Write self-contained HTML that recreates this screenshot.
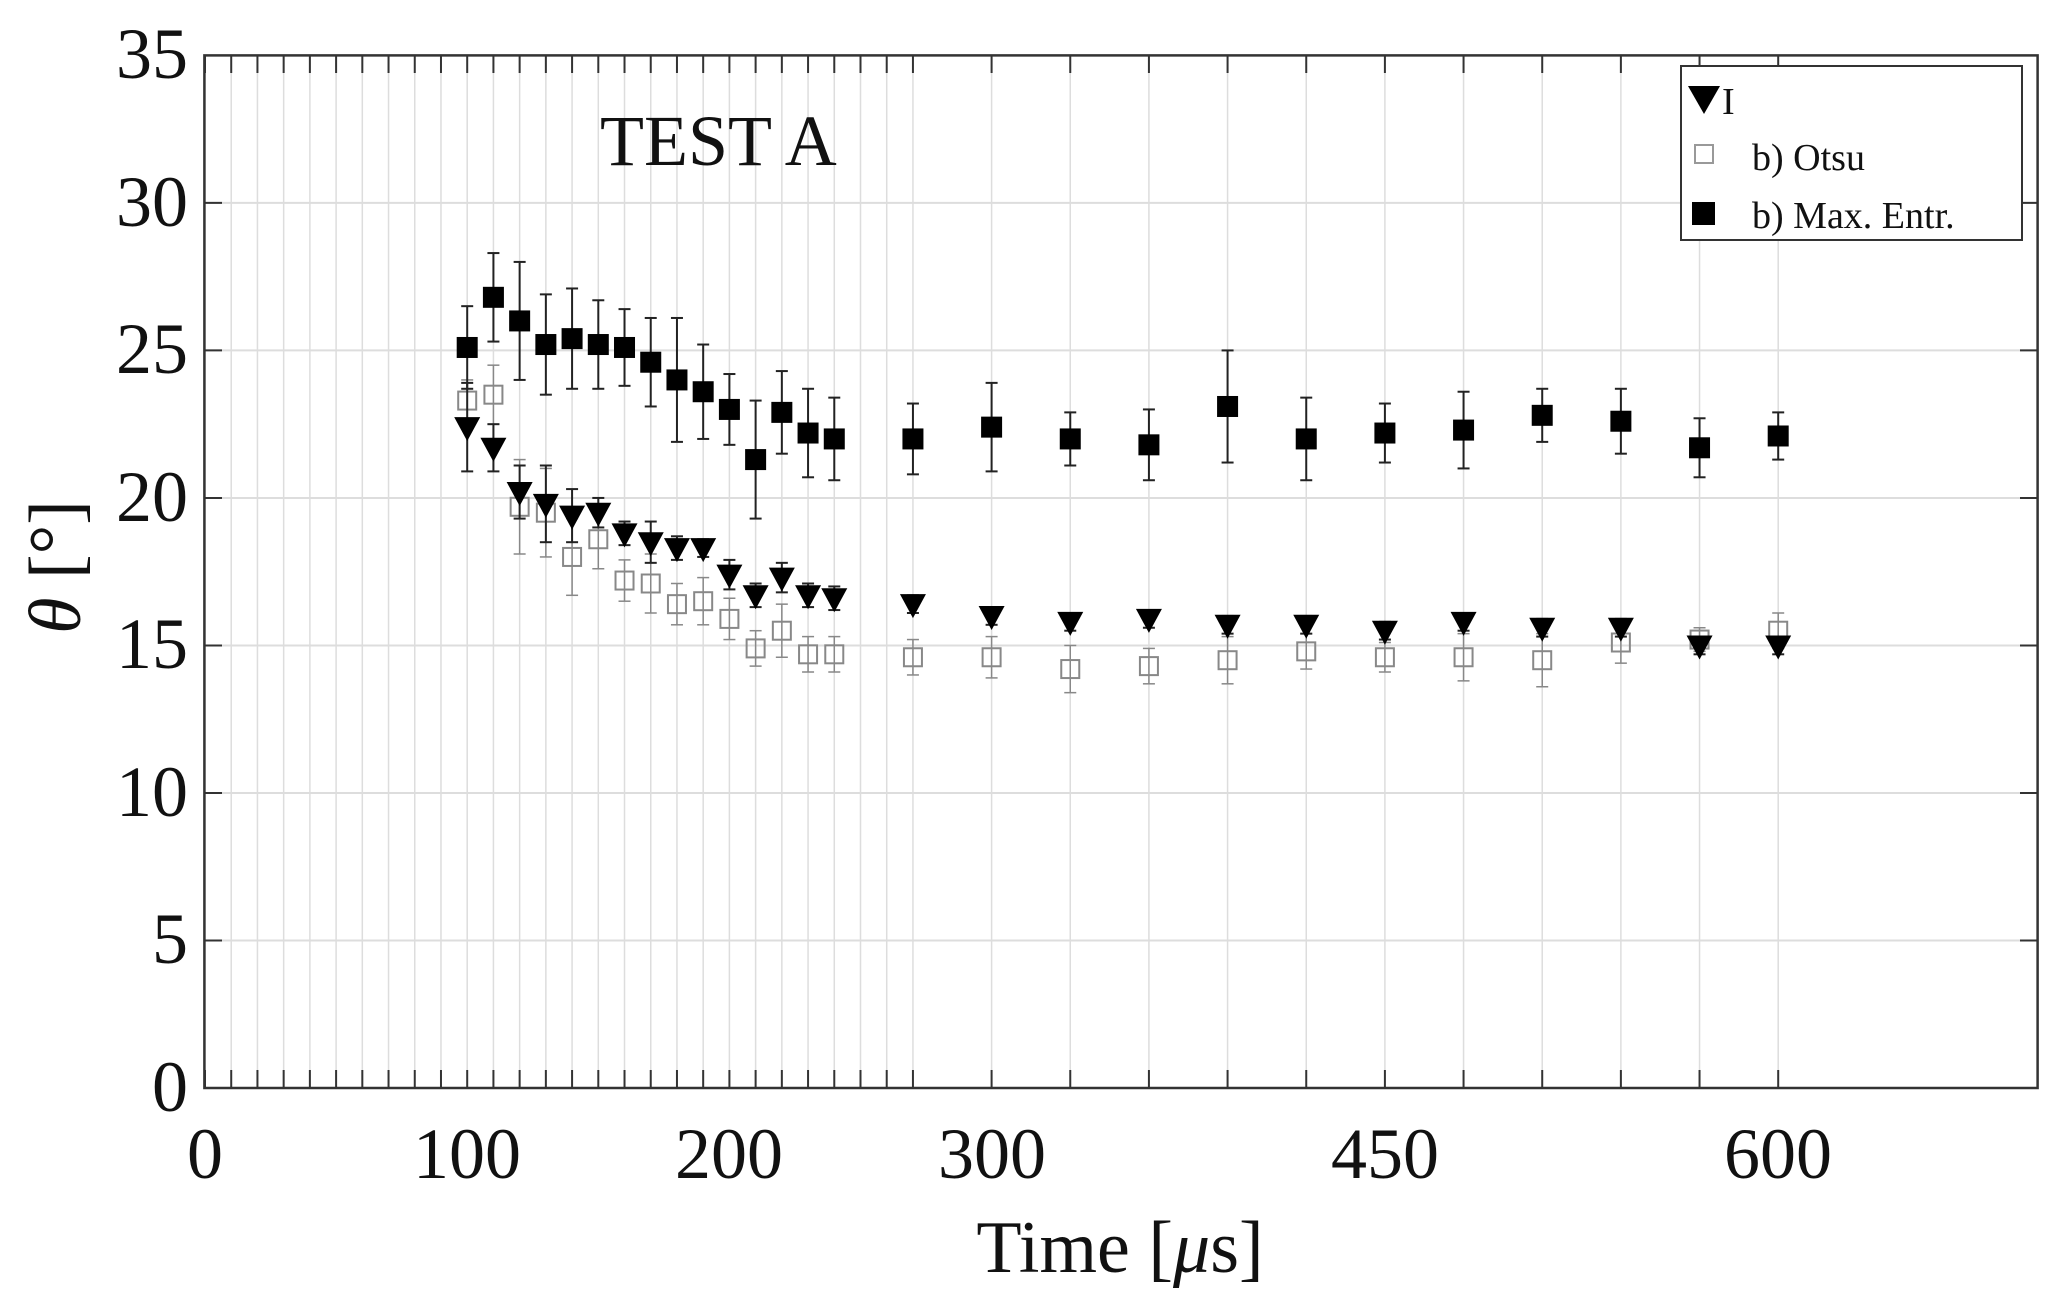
<!DOCTYPE html>
<html><head><meta charset="utf-8"><style>
html,body{margin:0;padding:0;background:#fff;}
svg text{font-family:"Liberation Serif",serif;fill:#111;}
</style></head><body>
<svg id="s" width="2064" height="1305" viewBox="0 0 2064 1305" xmlns="http://www.w3.org/2000/svg">
<rect width="2064" height="1305" fill="#fff"/>
<g id="grid"></g>
<g id="data"></g>
<rect x="204.4" y="55.4" width="1833.2" height="1032.6" fill="none" stroke="#333" stroke-width="2.5"/>
<g font-size="72" text-anchor="end">
<text x="188" y="1111">0</text>
<text x="188" y="963">5</text>
<text x="188" y="816">10</text>
<text x="188" y="668">15</text>
<text x="188" y="521">20</text>
<text x="188" y="373">25</text>
<text x="188" y="226">30</text>
<text x="188" y="78">35</text>
</g>
<g font-size="72" text-anchor="middle">
<text x="205" y="1178">0</text>
<text x="467" y="1178">100</text>
<text x="729" y="1178">200</text>
<text x="992" y="1178">300</text>
<text x="1385" y="1178">450</text>
<text x="1778" y="1178">600</text>
</g>
<text x="1120" y="1272" font-size="74" text-anchor="middle">Time [<tspan font-style="italic">μ</tspan>s]</text>
<text transform="translate(80,567) rotate(-90)" font-size="74" text-anchor="middle"><tspan font-style="italic">θ</tspan> [°]</text>
<text x="600" y="165" font-size="72">TEST A</text>
<g>
<rect x="1681" y="66" width="341" height="174" fill="#fff" stroke="#333" stroke-width="2"/>
<polygon points="1688,86 1720,86 1704,114" fill="#000"/>
<text x="1722" y="114" font-size="38">I</text>
<rect x="1695" y="145" width="18" height="18" fill="none" stroke="#999" stroke-width="2"/>
<text x="1752" y="170" font-size="38">b) Otsu</text>
<rect x="1692" y="202" width="23" height="23" fill="#000"/>
<text x="1752" y="228" font-size="38">b) Max. Entr.</text>
</g>
</svg>
<script>
var L=205,B=1088,sx=2.622,sy=29.503;
function X(t){return L+t*sx}function Y(v){return B-v*sy}
var ns="http://www.w3.org/2000/svg";
function el(p,n,a){var e=document.createElementNS(ns,n);for(var k in a)e.setAttribute(k,a[k]);p.appendChild(e);return e}
var g=document.getElementById("grid"),d=document.getElementById("data");
var vx=[];for(var t=0;t<=270;t+=10)vx.push(t);for(var t=300;t<=600;t+=30)vx.push(t);
vx.forEach(function(t){var x=X(t);el(g,"line",{x1:x,x2:x,y1:55,y2:1088,stroke:"#ddd","stroke-width":1.5});
el(g,"line",{x1:x,x2:x,y1:1088,y2:1070,stroke:"#333","stroke-width":2});el(g,"line",{x1:x,x2:x,y1:55,y2:73,stroke:"#333","stroke-width":2});});
for(var v=5;v<35;v+=5){var y=Y(v);el(g,"line",{x1:204,x2:2038,y1:y,y2:y,stroke:"#ddd","stroke-width":2});
el(g,"line",{x1:204,x2:222,y1:y,y2:y,stroke:"#333","stroke-width":2});el(g,"line",{x1:2020,x2:2038,y1:y,y2:y,stroke:"#333","stroke-width":2});}
var T=[100,110,120,130,140,150,160,170,180,190,200,210,220,230,240,270,300,330,360,390,420,450,480,510,540,570,600];
var M=[25.1,26.8,26.0,25.2,25.4,25.2,25.1,24.6,24.0,23.6,23.0,21.3,22.9,22.2,22.0,22.0,22.4,22.0,21.8,23.1,22.0,22.2,22.3,22.8,22.6,21.7,22.1];
var Me=[1.4,1.5,2,1.7,1.7,1.5,1.3,1.5,2.1,1.6,1.2,2.0,1.4,1.5,1.4,1.2,1.5,0.9,1.2,1.9,1.4,1.0,1.3,0.9,1.1,1.0,0.8];
var I=[22.4,21.7,20.2,19.8,19.4,19.5,18.8,18.5,18.3,18.3,17.4,16.7,17.3,16.7,16.6,16.4,16.0,15.8,15.9,15.7,15.7,15.5,15.8,15.6,15.6,15.0,15.0];
var Ie=[1.5,0.8,0.9,1.3,0.9,0.5,0.4,0.7,0.4,0.3,0.5,0.4,0.5,0.4,0.4,0.3,0.3,0.3,0.3,0.3,0.3,0.3,0.3,0.3,0.3,0.3,0.3];
var O=[23.3,23.5,19.7,19.5,18.0,18.6,17.2,17.1,16.4,16.5,15.9,14.9,15.5,14.7,14.7,14.6,14.6,14.2,14.3,14.5,14.8,14.6,14.6,14.5,15.1,15.2,15.5];
var Oe=[0.7,1.0,1.6,1.5,1.3,1.0,0.7,1.0,0.7,0.8,0.7,0.6,0.9,0.6,0.6,0.6,0.7,0.8,0.6,0.8,0.6,0.5,0.8,0.9,0.7,0.4,0.6];
function eb(x,v,e,c,w){var y1=Y(v-e),y2=Y(v+e);el(d,"line",{x1:x,x2:x,y1:y1,y2:y2,stroke:c,"stroke-width":w});
el(d,"line",{x1:x-6,x2:x+6,y1:y1,y2:y1,stroke:c,"stroke-width":w});el(d,"line",{x1:x-6,x2:x+6,y1:y2,y2:y2,stroke:c,"stroke-width":w});}
T.forEach(function(t,i){var x=X(t);
eb(x,O[i],Oe[i],"#888",1.5);var y=Y(O[i]);el(d,"rect",{x:x-9,y:y-9,width:18,height:18,fill:"none",stroke:"#888","stroke-width":2});
eb(x,I[i],Ie[i],"#222",2);y=Y(I[i]);el(d,"polygon",{points:(x-13)+","+(y-10)+" "+(x+13)+","+(y-10)+" "+x+","+(y+14),fill:"#000"});
eb(x,M[i],Me[i],"#222",2);y=Y(M[i]);el(d,"rect",{x:x-10.5,y:y-10.5,width:21,height:21,fill:"#000"});
});
</script>
</body></html>
